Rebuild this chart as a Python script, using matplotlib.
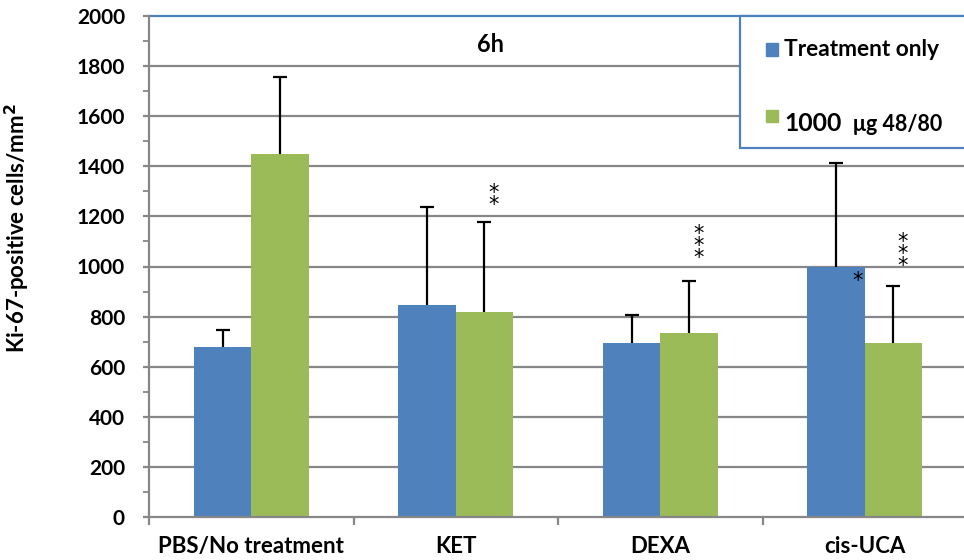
import matplotlib
matplotlib.use("Agg")
import matplotlib.pyplot as plt
from matplotlib.patches import Rectangle
import numpy as np

plt.rcParams['font.family'] = ['Lato', 'DejaVu Sans']
plt.rcParams['font.weight'] = 'bold'

categories = ["PBS/No treatment", "KET", "DEXA", "cis-UCA"]
treatment_only = [678, 846, 695, 998]
treatment_only_err = [70, 392, 111, 415]
with_4880 = [1450, 818, 735, 695]
with_4880_err = [307, 360, 207, 227]
# significance marks and the height of the lowest star in each
marks_4880 = ["", "*\n*", "*\n*\n*", "*\n*\n*"]
marks_4880_low = [0, 1273, 1062, 1030]
marks_only = ["", "", "", "*"]
marks_only_low = [0, 0, 0, 970]

BLUE = "#4F81BD"
GREEN = "#9BBB59"
GRID = "#878787"

fig = plt.figure(figsize=(9.64, 5.6), dpi=100)
ax = fig.add_axes([149/964, 1 - 517/560, 818/964, 501/560])

x = np.arange(len(categories)) + 0.5
w = 0.28

ax.set_ylim(0, 2000)
ax.set_xlim(0, 4)
ax.set_yticks(np.arange(0, 2001, 200))
ax.set_yticks(np.arange(100, 2000, 200), minor=True)
for yv in range(200, 2000, 200):
    ax.axhline(yv, color=GRID, lw=1.6, zorder=0)
ax.axhline(2000, color=BLUE, lw=1.6, zorder=0, clip_on=False)

ax.bar(x - w/2, treatment_only, w, color=BLUE, zorder=2)
ax.bar(x + w/2, with_4880, w, color=GREEN, zorder=2)

# upper-only error bars: hide the cap sitting on the bar top
for xs, vals, errs in [(x - w/2, treatment_only, treatment_only_err),
                       (x + w/2, with_4880, with_4880_err)]:
    eb = ax.errorbar(xs, vals, yerr=[np.zeros(len(vals)), errs], fmt="none",
                     ecolor="black", elinewidth=1.6, capsize=4.8,
                     capthick=1.6, zorder=3)
    eb[1][0].set_visible(False)

# significance stars, stacked vertically in one text
STAR_FS = 15


def draw_stars(xc, low, mark):
    ax.annotate(mark, xy=(xc, low), xytext=(0, -0.83 * STAR_FS),
                textcoords="offset points", ha="center", va="bottom",
                fontsize=STAR_FS, fontweight="normal", linespacing=0.51,
                family=["DejaVu Sans"], zorder=4)


for i in range(len(categories)):
    if marks_4880[i]:
        draw_stars(x[i] + w/2 + 0.045, marks_4880_low[i], marks_4880[i])
    if marks_only[i]:
        draw_stars(x[i] - w/2 + 0.107, marks_only_low[i], marks_only[i])

for s in ["top", "right"]:
    ax.spines[s].set_visible(False)
ax.spines["left"].set_color(GRID)
ax.spines["left"].set_linewidth(1.6)
ax.spines["bottom"].set_color(GRID)
ax.spines["bottom"].set_linewidth(1.6)

ax.tick_params(axis="y", which="major", length=4.3, width=1.6, color=GRID,
               labelsize=15, pad=13)
ax.tick_params(axis="y", which="minor", length=4.3, width=1.3, color=GRID)
ax.set_xticks([0, 1, 2, 3, 4])
ax.set_xticklabels([])
ax.set_xticks(x, minor=True)
ax.set_xticklabels(categories, minor=True)
ax.tick_params(axis="x", which="major", length=5.8, width=1.6, color=GRID)
ax.tick_params(axis="x", which="minor", length=0, labelsize=16, pad=14)

ax.set_ylabel("Ki-67-positive cells/mm$^\\mathbf{2}$", fontsize=16,
              fontweight="bold")
ax.yaxis.set_label_coords(-0.143, 0.577)

fig.text(491/964, 1 - 44/560, "6h", ha="center", va="center",
         fontsize=17, fontweight="bold")

# legend box
box = Rectangle((740/964, 1 - 148/560), 226/964, 132/560,
                transform=fig.transFigure, fill=True, facecolor="white",
                edgecolor=BLUE, lw=1.6, zorder=5)
fig.patches.append(box)
fig.patches.append(Rectangle((766/964, 1 - 56/560), 12/964, 13/560,
                             transform=fig.transFigure, color=BLUE, zorder=6))
fig.patches.append(Rectangle((766/964, 1 - 122/560), 12/964, 12/560,
                             transform=fig.transFigure, color=GREEN, zorder=6))
fig.text(784/964, 1 - 49/560, "Treatment only", ha="left", va="center",
         fontsize=16.4, fontweight="bold", zorder=7)
fig.text(784/964, 1 - 131/560, "1000", ha="left", va="baseline",
         fontsize=17.8, fontweight="bold", zorder=7)
fig.text(853/964, 1 - 131/560, "\u03bcg 48/80", ha="left", va="baseline",
         fontsize=15.5, fontweight="bold", zorder=7)

fig.savefig("out.png", dpi=100)
